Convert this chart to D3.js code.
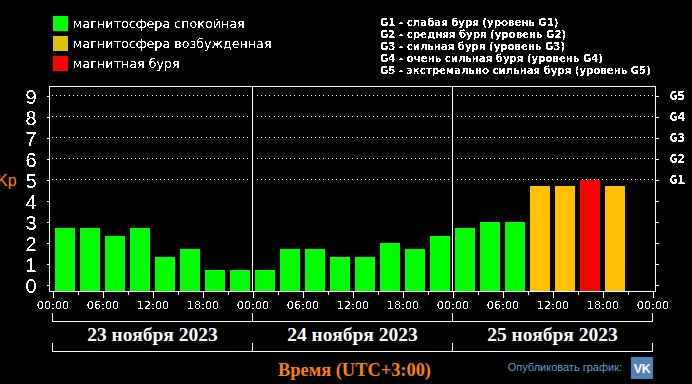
<!DOCTYPE html>
<html>
<head>
<meta charset="utf-8">
<script src="https://cdn.jsdelivr.net/npm/d3@7"></script>
<style>
  html, body { margin: 0; padding: 0; background: #000; overflow: hidden; }
  svg { display: block; }
  text { fill: #fff; }
  .axis path, .axis line { stroke: #fff; shape-rendering: crispEdges; }
  .crisp { shape-rendering: crispEdges; }
</style>
</head>
<body>
<svg id="chart" width="692" height="384"></svg>
<script>
const days = ['2023-11-23', '2023-11-24', '2023-11-25'];
const dayLabels = ['23 ноября 2023', '24 ноября 2023', '25 ноября 2023'];
const kp23 = [2.7, 2.7, 2.3, 2.7, 1.3, 1.7, 0.7, 0.7];
const kp24 = [0.7, 1.7, 1.7, 1.3, 1.3, 2, 1.7, 2.3];
const kp25 = [2.7, 3, 3, 4.7, 4.7, 5, 4.7];
const kpTicks = [0, 1, 2, 3, 4, 5, 6, 7, 8, 9];
const stormTicks = [5, 6, 7, 8, 9];
const stormLabels = ['G1', 'G2', 'G3', 'G4', 'G5'];
const legendLabels = ['магнитосфера спокойная', 'магнитосфера возбужденная', 'магнитная буря'];
const legendColors = ['#00ff00', '#e0c000', '#ff0000'];
const scaleLines = [
  'G1 - слабая буря (уровень G1)',
  'G2 - средняя буря (уровень G2)',
  'G3 - сильная буря (уровень G3)',
  'G4 - очень сильная буря (уровень G4)',
  'G5 - экстремально сильная буря (уровень G5)'
];

const HOUR = 3600000;
const svg = d3.select('#chart');

// threshold filter, the reference text is not antialiased
svg.append('defs').append('filter').attr('id', 'hard')
  .attr('x', '-5%').attr('y', '-20%').attr('width', '110%').attr('height', '140%')
  .append('feComponentTransfer')
  .append('feFuncA').attr('type', 'discrete').attr('tableValues', '0 0 1 1');

const xScale = d3.scaleUtc()
  .domain([new Date(days[0] + 'T00:00Z'), new Date('2023-11-26T00:00Z')])
  .range([52.5, 652.5]);
const yScale = d3.scaleLinear().domain([0, 9]).range([284.5, 95.5]);

const bars = [];
[kp23, kp24, kp25].forEach((vals, i) => {
  vals.forEach((kp, j) => {
    const start = new Date(new Date(days[i] + 'T00:00Z').getTime() + j * 3 * HOUR);
    bars.push({ start, kp });
  });
});

const plotLeft = 49.5, plotRight = 655.5, plotTop = 86.5, plotBottom = 291.5;
const dayStarts = d3.utcDay.range(xScale.domain()[0], xScale.domain()[1]);

// dotted storm levels, broken round the day separators
const levels = svg.append('g').attr('class', 'crisp');
stormTicks.forEach(k => {
  [[52, 249], [257, 449], [457, 655]].forEach(seg => {
    levels.append('line')
      .attr('x1', seg[0]).attr('x2', seg[1])
      .attr('y1', Math.floor(yScale(k)) + 0.5).attr('y2', Math.floor(yScale(k)) + 0.5)
      .attr('stroke', '#fff')
      .attr('stroke-dasharray', '1 3.15');
  });
});

// bars
const barColor = d => d.kp >= 5 ? '#ff0000' : d.kp > 4 ? '#ffc000' : '#00ff00';
svg.append('g').attr('class', 'crisp').selectAll('rect').data(bars)
  .join('rect')
    .attr('x', d => xScale(d.start) + 2.5)
    .attr('width', d => xScale(new Date(d.start.getTime() + 3 * HOUR)) - xScale(d.start) - 5)
    .attr('y', d => yScale(d.kp))
    .attr('height', d => plotBottom - yScale(d.kp))
    .attr('fill', barColor);

// day separators and frame
const frame = svg.append('g').attr('class', 'crisp');
frame.selectAll('.sep').data(dayStarts.slice(1))
  .join('line')
    .attr('class', 'sep')
    .attr('x1', d => xScale(d)).attr('x2', d => xScale(d))
    .attr('y1', plotTop).attr('y2', plotBottom)
    .attr('stroke', '#fff');
frame.append('path')
  .attr('d', `M${plotLeft},${plotBottom}V${plotTop}H${plotRight}V${plotBottom}H${plotLeft}`)
  .attr('fill', 'none').attr('stroke', '#fff');

// axes
const yAxisL = d3.axisLeft(yScale).tickValues(kpTicks).tickSize(3).tickPadding(10).tickSizeOuter(0);
const gL = svg.append('g').attr('class', 'axis').attr('transform', `translate(${plotLeft},0)`).call(yAxisL);
gL.select('.domain').remove();
gL.selectAll('text')
  .attr('filter', 'url(#hard)')
  .attr('dy', '0.4em')
  .style('font', '20px "Liberation Sans", sans-serif').attr('fill', '#fff');

const stormMap = d3.scaleOrdinal().domain(stormTicks).range(stormLabels);
const yAxisR = d3.axisRight(yScale).tickValues(kpTicks).tickSize(3).tickPadding(11).tickSizeOuter(0)
  .tickFormat(d => d >= 5 ? stormMap(d) : '');
const gR = svg.append('g').attr('class', 'axis').attr('transform', `translate(${plotRight},0)`).call(yAxisR);
gR.select('.domain').remove();
gR.selectAll('text')
  .attr('filter', 'url(#hard)')
  .style('font', 'bold 13px "DejaVu Sans Mono", monospace').attr('fill', '#fff');

const xAxis = d3.axisBottom(xScale)
  .tickValues(d3.utcHour.range(xScale.domain()[0], new Date(xScale.domain()[1].getTime() + 1), 3))
  .tickSize(3).tickPadding(6).tickSizeOuter(0)
  .tickFormat((d, i) => i % 2 === 0 ? d3.utcFormat('%H:%M')(d) : '');
const gX = svg.append('g').attr('class', 'axis').attr('transform', `translate(0,${plotBottom})`).call(xAxis);
gX.select('.domain').remove();
gX.selectAll('.tick line').attr('y2', (d, i) => i % 2 === 0 ? 6 : 3);
gX.selectAll('text')
  .attr('filter', 'url(#hard)')
  .style('font', '11.3px "DejaVu Sans", sans-serif').attr('fill', '#fff');

// day brackets above and below the date labels
const dayEdges = dayStarts.concat([xScale.domain()[1]]);
const brackets = svg.append('g').attr('class', 'crisp');
[[321.5, 313], [351.5, 343]].forEach(([y, yTick]) => {
  brackets.append('line').attr('x1', xScale.range()[0]).attr('x2', xScale.range()[1])
    .attr('y1', y).attr('y2', y).attr('stroke', '#fff');
  brackets.selectAll(null).data(dayEdges).join('line')
    .attr('x1', d => xScale(d)).attr('x2', d => xScale(d))
    .attr('y1', yTick).attr('y2', y).attr('stroke', '#fff');
});

svg.append('g').selectAll('text').data(dayLabels)
  .join('text')
    .attr('x', (d, i) => xScale(dayStarts[i]) + 100)
    .attr('y', 341)
    .attr('text-anchor', 'middle')
    .style('font', 'bold 19.5px "Liberation Serif", serif')
    .text(d => d);

// legend
const legend = svg.append('g');
legendLabels.forEach((label, i) => {
  legend.append('rect').attr('x', 53).attr('y', 16 + i * 20).attr('width', 15).attr('height', 15)
    .attr('fill', legendColors[i]);
  legend.append('text').attr('x', 73).attr('y', 28 + i * 20)
    .attr('filter', 'url(#hard)')
    .style('font', '12.7px "DejaVu Sans", sans-serif')
    .text(label);
});

svg.append('g').selectAll('text').data(scaleLines)
  .join('text')
    .attr('x', 380)
    .attr('y', (d, i) => 26 + i * 12)
    .attr('filter', 'url(#hard)')
    .style('font', 'bold 10.2px "DejaVu Sans", sans-serif')
    .text(d => d);

// axis titles, Kp is clipped by the left edge in the original too
svg.append('text').attr('x', -3).attr('y', 186)
  .style('font', '16px "Liberation Sans", sans-serif').style('fill', '#ff8000').text('Kp');
svg.append('text').attr('x', 354.5).attr('y', 376).attr('text-anchor', 'middle')
  .style('font', 'bold 18.4px "Liberation Serif", serif').style('fill', '#ff8000')
  .text('Время (UTC+3:00)');

// publish button
svg.append('text').attr('x', 622).attr('y', 371).attr('text-anchor', 'end')
  .style('font', '11px "Liberation Sans", sans-serif').style('fill', '#6a9bd0')
  .text('Опубликовать график:');
svg.append('rect').attr('x', 631).attr('y', 357).attr('width', 22).attr('height', 22).attr('fill', '#5181b8');
svg.append('text').attr('x', 642).attr('y', 372.5).attr('text-anchor', 'middle')
  .style('font', 'bold 12.5px "Liberation Sans", sans-serif').style('letter-spacing', '-0.5px').text('VK');
</script>
</body>
</html>
